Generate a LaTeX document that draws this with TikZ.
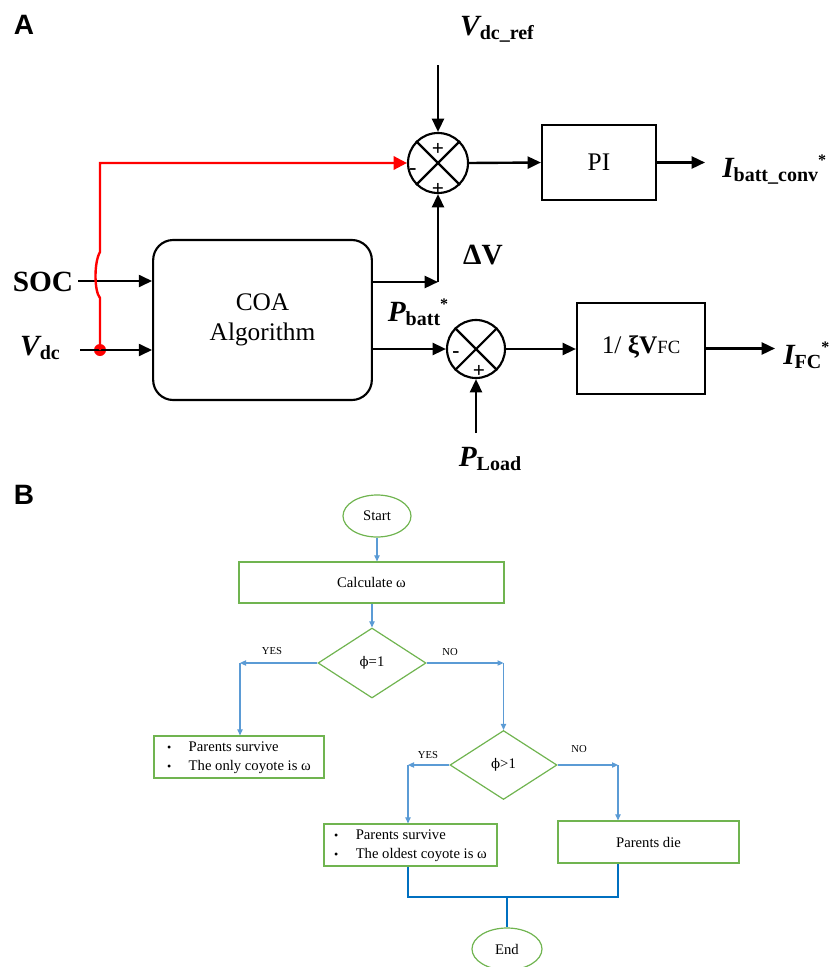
\documentclass[tikz,border=0pt]{standalone}
\usepackage{fontspec}
\setmainfont{Liberation Serif}
\newfontfamily\labfont{Liberation Sans}
\newfontfamily\dvs{DejaVu Serif}
\usetikzlibrary{arrows.meta,shapes.geometric,calc}
\definecolor{fgreen}{RGB}{112,180,80}
\definecolor{fblue}{RGB}{91,155,213}
\definecolor{dblue}{RGB}{0,112,192}
\newcommand\subtxt[1]{\raisebox{-3pt}{\fontsize{15}{15}\selectfont\bfseries\upshape #1}}
\newcommand\startxt{\raisebox{9pt}{\fontsize{12}{12}\selectfont\bfseries\upshape *}}
\newcommand\smbul{{\fontsize{9}{9}\selectfont\textbullet}}
\begin{document}
\begin{tikzpicture}[x=0.75pt,y=-0.75pt,
  barrow/.style={line width=1.8pt,-{Triangle[length=10pt,width=9pt]}},
  redarrow/.style={line width=1.8pt,red,-{Triangle[length=10pt,width=10pt]}},
  sumnode/.style={circle,draw,line width=1.6pt,inner sep=0pt},
  blockbox/.style={draw,line width=1.6pt,inner sep=0pt,font=\fontsize{19}{23}\selectfont},
  gbox/.style={draw=fgreen,line width=0.9pt,inner sep=0pt,font=\fontsize{11}{14}\selectfont},
  gshape/.style={draw=fgreen,line width=0.9pt,inner sep=0pt,font=\fontsize{11}{14}\selectfont},
  flowarr/.style={fblue,line width=0.8pt,-{Triangle[length=4.5pt,width=4pt]}},
  mergeline/.style={dblue,line width=1pt},
  biglbl/.style={inner sep=0pt,font=\fontsize{22}{24}\selectfont\bfseries},
  panel/.style={inner sep=0pt,font=\labfont\fontsize{21}{21}\selectfont\bfseries},
  signlbl/.style={inner sep=0pt,font=\fontsize{16}{16}\selectfont\bfseries},
  yn/.style={inner sep=0pt,font=\fontsize{8}{8}\selectfont}
]
\useasboundingbox (0,0) rectangle (831,967);

% ---------------- Panel A ----------------
\node[panel] (labA) at (24,25) {A};

\node[blockbox,rounded corners=15pt,minimum width=164pt,minimum height=120pt,align=center] (coa) at (262.5,320) {COA\\Algorithm};
\node[blockbox,minimum width=85.5pt,minimum height=56pt] (pi) at (599,162.5) {PI};
\node[blockbox,minimum width=96pt,minimum height=68pt] (fc) at (641,348.5) {\raisebox{6pt}{1/ {\bfseries ξV}{\fontsize{14}{14}\selectfont FC}}};

\node[sumnode,minimum size=45pt] (sum1) at (438,163) {};
\draw[line width=1.6pt] (sum1.45) -- (sum1.225) (sum1.135) -- (sum1.315);
\node[signlbl] (s1a) at (438,149) {+};
\node[signlbl] (s1b) at (413,172) {-};
\node[signlbl] (s1c) at (438,189) {+};

\node[sumnode,minimum size=43.5pt] (sum2) at (476,349) {};
\draw[line width=1.6pt] (sum2.45) -- (sum2.225) (sum2.135) -- (sum2.315);
\node[signlbl] (s2a) at (456,355) {-};
\node[signlbl] (s2b) at (479,371) {+};

\node[biglbl] (soc) at (43,282) {SOC};
\node[biglbl] (vdc) at (40,348) {\itshape V\subtxt{dc}};
\node[biglbl] (vref) at (497,29) {\itshape V\subtxt{dc\_ref}};
\node[biglbl] (dv) at (483,255) {ΔV};
\node[biglbl] (pbatt) at (418,312) {\itshape P\subtxt{batt}\startxt};
\node[biglbl] (pload) at (490,459) {\itshape P\subtxt{Load}};
\node[biglbl,anchor=west] (ibatt) at (722,170) {\itshape I\subtxt{batt\_conv}\startxt};
\node[biglbl,anchor=west] (ifc) at (783,355) {\itshape I\subtxt{FC}\startxt};

\coordinate (socin) at (78,281);
\coordinate (vin) at (80,350);
\node[circle,fill=red,inner sep=0pt,minimum size=9pt] (dot) at (100,350) {};
\coordinate (hopA) at (100,298);
\coordinate (hopB) at (100,252);
\coordinate (vrefa) at (438,65);
\coordinate (cj) at (438,282);
\coordinate (pla) at (476,433);
\coordinate (ibend) at (705,162.5);
\coordinate (ifcend) at (775,348.5);

\draw[barrow] (socin) -- (socin -| coa.west);
\draw[barrow] (vin) -- (vin -| coa.west);
\draw[redarrow] (dot.center) -- (hopA) .. controls (94,291) and (94,262) .. (hopB) -- (dot |- sum1.west) -- (sum1.west);
\draw[barrow] (vrefa) -- (sum1.north);
\draw[barrow] (sum1.east) -- (pi.west);
\draw[barrow] (pi.east) -- (ibend);
\draw[barrow] (coa.east |- cj) -- (cj);
\draw[barrow] (cj) -- (sum1.south);
\draw[barrow] (coa.east |- sum2.west) -- (sum2.west);
\draw[barrow] (sum2.east) -- (fc.west |- sum2.east);
\draw[barrow] (fc.east) -- (ifcend);
\draw[barrow] (pla) -- (sum2.south);

% ---------------- Panel B ----------------
\node[panel] (labB) at (24,495) {B};

\node[gshape,ellipse,minimum width=51pt,minimum height=31.5pt] (start) at (377,516) {Start};
\node[gbox,minimum width=198.75pt,minimum height=30.75pt] (calc) at (371.5,582.5) {Calculate ω};
\node[gshape,diamond,minimum width=81pt,minimum height=52.5pt] (d1) at (372,663) {{\dvs\fontsize{10}{10}\selectfont ϕ}=1};
\node[gbox,minimum width=127.5pt,minimum height=31.5pt] (b1) at (239,757)
  {\begin{tabular}{@{}l@{\hspace{13pt}}l@{}}\smbul & Parents survive\\ \smbul & The only coyote is ω\end{tabular}};
\node[gshape,diamond,minimum width=80.25pt,minimum height=51.75pt] (d2) at (503.5,765) {{\dvs\fontsize{10}{10}\selectfont ϕ}>1};
\node[gbox,minimum width=129.75pt,minimum height=31.5pt] (b2) at (410.5,845)
  {\begin{tabular}{@{}l@{\hspace{13pt}}l@{}}\smbul & Parents survive\\ \smbul & The oldest coyote is ω\end{tabular}};
\node[gbox,minimum width=135.75pt,minimum height=31.5pt] (b3) at (648.5,842) {Parents die};
\node[gshape,ellipse,minimum width=52.5pt,minimum height=31.5pt] (endn) at (507,949) {End};

\node[yn] (yes1) at (272,651) {YES};
\node[yn] (no1) at (450,652) {NO};
\node[yn] (yes2) at (428,755) {YES};
\node[yn] (no2) at (579,749) {NO};

\coordinate (y1) at (240,663);
\coordinate (n1) at (503.5,663);
\coordinate (y2) at (408,765);
\coordinate (n2) at (618,765);
\coordinate (m) at (507,897);

\draw[flowarr] (start.south) -- (start.south |- calc.north);
\draw[flowarr] (calc.south -| d1.north) -- (d1.north);
\draw[flowarr] (d1.west) -- (y1);
\draw[flowarr] (y1) -- (y1 |- b1.north);
\draw[flowarr] (d1.east) -- (n1);
\draw[flowarr] (n1) -- (d2.north);
\draw[flowarr] (d2.west) -- (y2);
\draw[flowarr] (y2) -- (y2 |- b2.north);
\draw[flowarr] (d2.east) -- (n2);
\draw[flowarr] (n2) -- (n2 |- b3.north);
\draw[mergeline] (y2 |- b2.south) -- (y2 |- m) -- (n2 |- m) -- (n2 |- b3.south);
\draw[mergeline] (m) -- (endn.north);
\end{tikzpicture}
\end{document}
